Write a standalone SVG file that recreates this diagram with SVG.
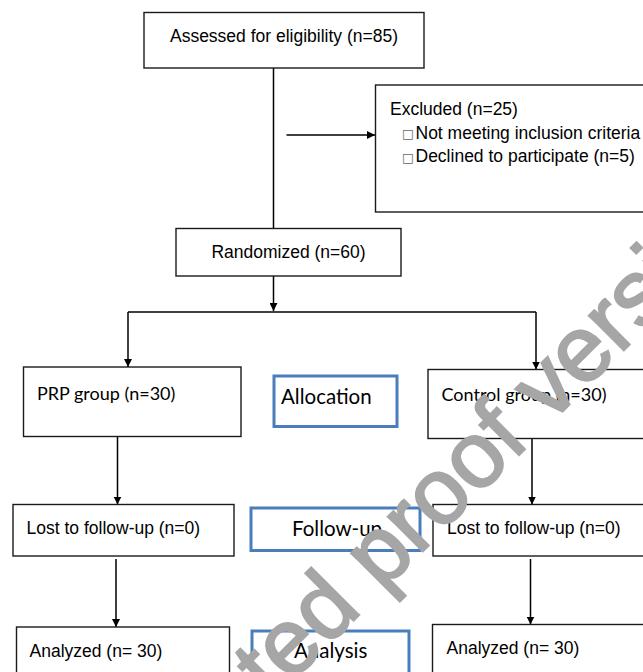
<svg xmlns="http://www.w3.org/2000/svg" width="643" height="672" viewBox="0 0 643 672">
<defs>
<marker id="ah" viewBox="0 0 10 10" refX="10" refY="5" markerWidth="8" markerHeight="8" markerUnits="userSpaceOnUse" orient="auto">
<path d="M0,0 L10,5 L0,10 z" fill="#000"/>
</marker>
<style>
.box{fill:#fff;stroke:#1a1a1a;stroke-width:1.4}
.blue{fill:#fff;stroke:#4a7ebb;stroke-width:3}
.a{font-family:"Liberation Sans",Arial,sans-serif;font-size:17.5px;fill:#000}
.c{font-family:Lato,"Open Sans",sans-serif;fill:#000}
.g{font-size:18px}
.l{font-size:20.5px}
.bul{font-family:"DejaVu Sans",sans-serif;font-size:12.5px;fill:#666}
.cn{stroke:#000;stroke-width:1.5;fill:none}
.wm{font-family:"Liberation Sans",Arial,sans-serif;font-size:93px;fill:#a6a6a6;stroke:#a6a6a6;stroke-width:2.2}
</style>
</defs>
<rect width="643" height="672" fill="#fff"/>
<g id="connectors">
<path class="cn" d="M273.5,68 V228.5"/>
<path class="cn" d="M286.5,135 H375" marker-end="url(#ah)"/>
<path class="cn" d="M273.5,276 V311" marker-end="url(#ah)"/>
<path class="cn" d="M128,312 H536"/>
<path class="cn" d="M128,312 V367" marker-end="url(#ah)"/>
<path class="cn" d="M536,312 V369.5" marker-end="url(#ah)"/>
<path class="cn" d="M117.5,436.5 V504.5" marker-end="url(#ah)"/>
<path class="cn" d="M532,438 V504.5" marker-end="url(#ah)"/>
<path class="cn" d="M116,559 V627" marker-end="url(#ah)"/>
<path class="cn" d="M530.5,559 V624.5" marker-end="url(#ah)"/>
</g>
<g id="assessed">
<rect class="box" x="144" y="12.5" width="280" height="55.5"/>
<text class="a" x="284" y="42" text-anchor="middle">Assessed for eligibility (n=85)</text>
</g>
<g id="excluded">
<rect class="box" x="375.5" y="85" width="300" height="127"/>
<text class="a" x="390" y="115">Excluded (n=25)</text>
<text class="bul" x="402" y="138">□</text>
<text class="a" x="415.5" y="138.5">Not meeting inclusion criteria</text>
<text class="bul" x="402" y="162">□</text>
<text class="a" x="415.5" y="162">Declined to participate (n=5)</text>
</g>
<g id="randomized">
<rect class="box" x="176" y="228.5" width="225" height="47.5"/>
<text class="a" x="288.5" y="257.5" text-anchor="middle">Randomized (n=60)</text>
</g>
<g id="prp">
<rect class="box" x="23.5" y="367" width="217.5" height="69.5"/>
<text class="c g" x="37" y="400">PRP group (n=30)</text>
</g>
<g id="allocation">
<rect class="blue" x="274" y="376" width="123" height="50.5"/>
<text class="c l" x="281" y="404">Allocation</text>
</g>
<g id="control">
<rect class="box" x="428" y="369.5" width="250" height="69"/>
<text class="c g" x="441.5" y="401">Control group (n=30)</text>
</g>
<g id="lost-prp">
<rect class="box" x="13" y="504.5" width="221" height="51.5"/>
<text class="a" x="26.5" y="534">Lost to follow-up (n=0)</text>
</g>
<g id="followup">
<rect class="blue" x="251" y="508" width="169" height="42.5"/>
<text class="c l" x="292" y="536">Follow-up</text>
</g>
<g id="lost-control">
<rect class="box" x="433" y="504.5" width="250" height="51.5"/>
<text class="a" x="447" y="534">Lost to follow-up (n=0)</text>
</g>
<g id="analyzed-prp">
<rect class="box" x="16.5" y="627" width="213" height="60"/>
<text class="a" x="29.5" y="657">Analyzed (n= 30)</text>
</g>
<g id="analysis">
<rect class="blue" x="252" y="631" width="157" height="60"/>
<text class="c l" x="294" y="658">Analysis</text>
</g>
<g id="analyzed-control">
<rect class="box" x="432.5" y="624.5" width="250" height="60"/>
<text class="a" x="446.5" y="654">Analyzed (n= 30)</text>
</g>
<g id="watermark">
<text class="wm" transform="translate(272,702) rotate(-45)">ted proof versi</text>
</g>
</svg>
